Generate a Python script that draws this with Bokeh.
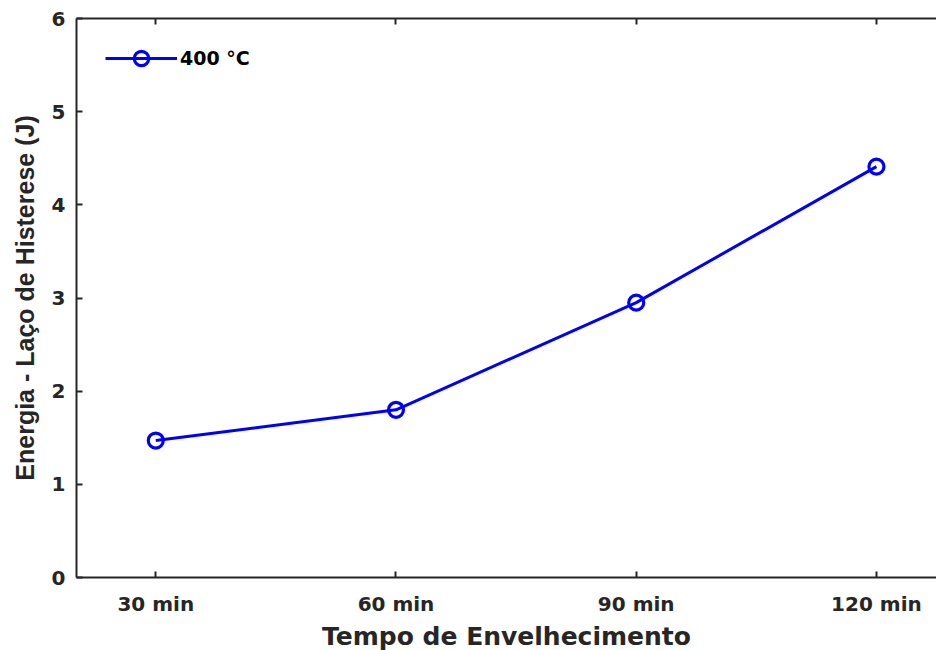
from bokeh.plotting import figure
from bokeh.models import FixedTicker, LinearAxis, Range1d, Legend, LegendItem
from bokeh.embed import file_html
from bokeh.resources import INLINE

times = ["30 min", "60 min", "90 min", "120 min"]
energy = [1.47, 1.80, 2.95, 4.41]
series_label = "400 °C"
y_ticks = [0, 1, 2, 3, 4, 5, 6]

xs = list(range(1, len(times) + 1))

FONT = "DejaVu Sans"
FONT_Y = "Liberation Sans"
TXT = "#262626"

p = figure(frame_width=860, frame_height=559, output_backend="svg", toolbar_location=None,
           x_range=Range1d(0.67, 4.25), y_range=Range1d(0, 6),
           min_border_left=76, min_border_right=0, min_border_top=18, min_border_bottom=0)
p.outline_line_color = None
p.xgrid.visible = False
p.ygrid.visible = False
p.background_fill_color = "white"
p.border_fill_color = "white"

for ax in (p.xaxis[0], p.yaxis[0]):
    ax.major_tick_in = 6
    ax.major_tick_out = 0
    ax.minor_tick_in = 0
    ax.minor_tick_out = 0
    ax.axis_line_color = TXT
    ax.axis_line_width = 2
    ax.major_tick_line_color = TXT
    ax.major_tick_line_width = 2
    ax.major_label_text_font = FONT
    ax.major_label_text_font_style = "bold"
    ax.major_label_text_font_size = "20px"
    ax.major_label_text_color = TXT
    ax.axis_label_text_font = FONT
    ax.axis_label_text_font_style = "bold"
    ax.axis_label_text_font_size = "25px"
    ax.axis_label_text_color = TXT

p.xaxis.ticker = FixedTicker(ticks=xs)
p.xaxis.major_label_overrides = {i: t for i, t in zip(xs, times)}
p.xaxis.major_label_standoff = 14
p.xaxis.axis_label = "Tempo de Envelhecimento"
p.xaxis.axis_label_standoff = 3

p.yaxis.ticker = FixedTicker(ticks=y_ticks)
p.yaxis.major_label_standoff = 11
p.yaxis.axis_label = "Energia - Laço de Histerese (J)"
p.yaxis.axis_label_text_font = FONT_Y
p.yaxis.axis_label_text_font_size = "25px"
p.yaxis.axis_label_standoff = 10

top = LinearAxis(ticker=FixedTicker(ticks=xs), major_label_overrides={i: "" for i in xs},
                 major_tick_in=6, major_tick_out=0, minor_tick_in=0, minor_tick_out=0,
                 axis_line_color=TXT, axis_line_width=2, major_tick_line_color=TXT,
                 major_tick_line_width=2, major_label_standoff=0)
p.add_layout(top, "above")

r_line = p.line(xs, energy, line_color="#0000FF", line_width=3)
r_pts = p.scatter(xs, energy, marker="circle", size=15, fill_color=None,
                  line_color="#0000FF", line_width=3.2)

legend = Legend(items=[LegendItem(label=series_label, renderers=[r_line, r_pts])],
                location=(29, 501), border_line_color=None, background_fill_alpha=0,
                glyph_width=72, glyph_height=36, label_standoff=3, padding=3, margin=0,
                label_text_font=FONT, label_text_font_style="bold",
                label_text_font_size="19px", label_text_color="black")
p.add_layout(legend)

open("out.html", "w").write(file_html(p, INLINE))
